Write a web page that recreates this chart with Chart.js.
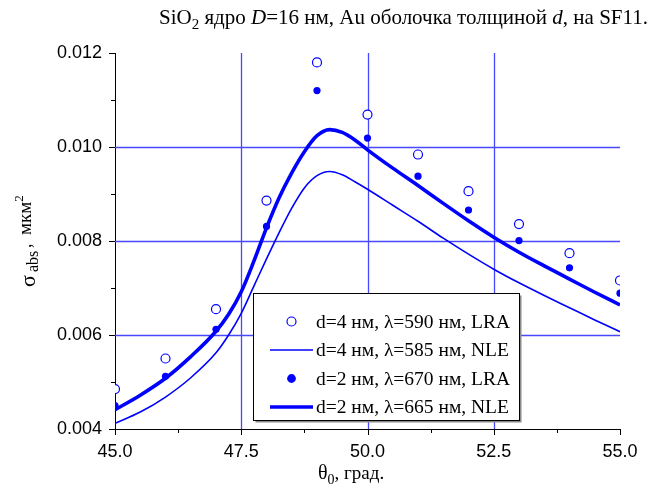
<!DOCTYPE html>
<html>
<head>
<meta charset="utf-8">
<script src="https://cdn.jsdelivr.net/npm/chart.js@4.4.1/dist/chart.umd.min.js"></script>
<style>
    html, body { margin: 0; padding: 0; background: #ffffff; }
</style>
</head>
<body>
<canvas id="sigma_graph" width="670" height="494"></canvas>
<script>
// углы для точек LRA
const angles = [45, 46, 47, 48, 49, 50, 51, 52, 53, 54, 55];
const lra4 = [0.00485, 0.00550, 0.00655, 0.00886, 0.01180, 0.01069, 0.00984, 0.00906, 0.00836, 0.00774, 0.00716];
const lra2 = [0.00450, 0.00512, 0.00612, 0.00831, 0.01120, 0.01019, 0.00938, 0.00866, 0.00801, 0.00743, 0.00689];

// кривые NLE
const nleAngles = [45, 45.5, 46, 46.5, 47, 47.25, 47.5, 47.75, 48, 48.25, 48.5, 48.75, 49, 49.25,
                   49.5, 49.75, 50, 50.5, 51, 51.5, 52, 52.5, 53, 53.5, 54, 54.5, 55];
const nle4 = [0.00412, 0.00436, 0.00468, 0.00509, 0.00562, 0.00600, 0.00646, 0.00704, 0.00762, 0.00818,
              0.00870, 0.00913, 0.00939, 0.00948, 0.00941, 0.00926, 0.00910, 0.00876, 0.00842, 0.00806,
              0.00772, 0.00740, 0.00711, 0.00684, 0.00658, 0.00632, 0.00607];
const nle2 = [0.00441, 0.00472, 0.00508, 0.00554, 0.00608, 0.00644, 0.00692, 0.00757, 0.00828, 0.00892,
              0.00945, 0.00990, 0.01024, 0.01037, 0.01031, 0.01015, 0.00994, 0.00955, 0.00918, 0.00880,
              0.00843, 0.00808, 0.00776, 0.00747, 0.00719, 0.00691, 0.00664];

const seriesNames = [
    "d=4 нм, λ=590 нм, LRA",
    "d=4 нм, λ=585 нм, NLE",
    "d=2 нм, λ=670 нм, LRA",
    "d=2 нм, λ=665 нм, NLE"
];

const xMajor = [45, 47.5, 50, 52.5, 55];
const xTickLabels = ["45.0", "47.5", "50.0", "52.5", "55.0"];
const yMajor = [0.004, 0.006, 0.008, 0.010, 0.012];
const yTickLabels = ["0.004", "0.006", "0.008", "0.010", "0.012"];

const BLUE = "#0000ff";
const GRID = "#4848ff";
const SERIF = '"Liberation Serif", "Times New Roman", serif';
const SANS = '"Liberation Sans", Arial, sans-serif';

function withMinor(major) {
    const out = [];
    major.forEach((v, i) => {
        out.push(v);
        if (i < major.length - 1) out.push((v + major[i + 1]) / 2);
    });
    return out;
}
const xTickValues = withMinor(xMajor);
const yTickValues = withMinor(yMajor);

function isMajor(list, v) {
    return list.some(m => Math.abs(m - v) < 1e-9);
}
function labelFor(list, labels, v) {
    const i = list.findIndex(m => Math.abs(m - v) < 1e-9);
    return i >= 0 ? labels[i] : "";
}

// текст с индексами; p.at задаёт позицию явно
function richText(ctx, parts, x, y) {
    let cx = x;
    parts.forEach(p => {
        ctx.font = (p.italic ? "italic " : "") + p.size + "px " + (p.family || SERIF);
        if (p.at !== undefined) cx = x + p.at;
        ctx.fillText(p.t, cx, y + (p.dy || 0));
        cx += ctx.measureText(p.t).width;
    });
    return cx - x;
}

const pts = (xs, ys) => xs.map((x, i) => ({ x: x, y: ys[i] }));

const decorPlugin = {
    id: "decor",
    beforeDatasetsDraw(chart) {
        const ctx = chart.ctx;
        const xs = chart.scales.x, ys = chart.scales.y;
        const area = chart.chartArea;
        ctx.save();
        ctx.strokeStyle = GRID;
        ctx.lineWidth = 1.3;
        ctx.beginPath();
        xMajor.slice(1, -1).forEach(v => {
            const px = Math.round(xs.getPixelForValue(v)) + 0.5;
            ctx.moveTo(px, area.top);
            ctx.lineTo(px, area.bottom);
        });
        yMajor.slice(1, -1).forEach(v => {
            const py = Math.round(ys.getPixelForValue(v)) + 0.5;
            ctx.moveTo(area.left, py);
            ctx.lineTo(area.right, py);
        });
        ctx.stroke();
        ctx.restore();
    },
    afterDraw(chart) {
        const ctx = chart.ctx;
        const xs = chart.scales.x, ys = chart.scales.y;
        const area = chart.chartArea;

        // засечки
        ctx.save();
        ctx.strokeStyle = "#000";
        ctx.lineWidth = 1;
        ctx.beginPath();
        xTickValues.forEach(v => {
            const px = Math.round(xs.getPixelForValue(v)) + 0.5;
            const len = isMajor(xMajor, v) ? 6 : 4;
            ctx.moveTo(px, area.bottom);
            ctx.lineTo(px, area.bottom + len);
        });
        yTickValues.forEach(v => {
            const py = Math.round(ys.getPixelForValue(v)) + 0.5;
            const len = isMajor(yMajor, v) ? 6 : 4;
            ctx.moveTo(area.left, py);
            ctx.lineTo(area.left - len, py);
        });
        ctx.stroke();
        ctx.restore();

        // заголовок
        ctx.save();
        ctx.fillStyle = "#000";
        ctx.textBaseline = "alphabetic";
        richText(ctx, [
            { t: "SiO", size: 21 },
            { t: "2", size: 15, dy: 5 },
            { t: " ядро ", size: 21 },
            { t: "D", size: 21, italic: true },
            { t: "=16 нм, Au оболочка толщиной ", size: 21 },
            { t: "d", size: 21, italic: true },
            { t: ", на SF11.", size: 21 }
        ], 159, 24);

        // подпись оси x
        richText(ctx, [
            { t: "θ", size: 20 },
            { t: "0", size: 14, dy: 5 },
            { t: ", град.", size: 19 }
        ], 318, 479);

        // подпись оси y
        ctx.translate(31, 287);
        ctx.rotate(-Math.PI / 2);
        richText(ctx, [
            { t: "σ", size: 22, dy: 4, at: 0 },
            { t: "abs", size: 16, dy: 7, at: 15 },
            { t: ",", size: 18, at: 39 },
            { t: "мкм", size: 19, at: 52 },
            { t: "2", size: 13, dy: -8 }
        ], 0, 0);
        ctx.restore();

        // легенда
        const box = { x: 253.5, y: 293.5, w: 266, h: 127 };
        ctx.save();
        ctx.fillStyle = "#8a8a8a";
        ctx.fillRect(box.x + 2, box.y + 2, box.w, box.h);
        ctx.fillStyle = "#fff";
        ctx.fillRect(box.x, box.y, box.w, box.h);
        ctx.strokeStyle = "#000";
        ctx.lineWidth = 1;
        ctx.strokeRect(box.x, box.y, box.w, box.h);

        const rowY = [321.5, 350, 378.5, 407];
        chart.data.datasets.forEach((ds, i) => {
            const y = rowY[i];
            if (ds.showLine === false) {
                ctx.beginPath();
                ctx.arc(291.5, y, ds.pointRadius, 0, Math.PI * 2);
                ctx.fillStyle = ds.pointBackgroundColor;
                ctx.fill();
                ctx.lineWidth = ds.pointBorderWidth;
                ctx.strokeStyle = ds.pointBorderColor;
                ctx.stroke();
            } else {
                ctx.beginPath();
                ctx.moveTo(270, y);
                ctx.lineTo(313, y);
                ctx.lineWidth = ds.borderWidth;
                ctx.strokeStyle = ds.borderColor;
                ctx.stroke();
            }
            ctx.fillStyle = "#000";
            ctx.font = "19.5px " + SERIF;
            ctx.textBaseline = "middle";
            ctx.fillText(ds.label, 316, y + 1);
        });
        ctx.restore();
    }
};

document.addEventListener("DOMContentLoaded", function () {
    const ctx = document.getElementById("sigma_graph").getContext("2d");

    new Chart(ctx, {
        type: "line",
        data: {
            datasets: [
                {
                    label: seriesNames[0],
                    data: pts(angles, lra4),
                    showLine: false,
                    pointRadius: 4.5,
                    pointBackgroundColor: "#ffffff",
                    pointBorderColor: BLUE,
                    pointBorderWidth: 1.2,
                    clip: 0
                },
                {
                    label: seriesNames[1],
                    data: pts(nleAngles, nle4),
                    borderColor: BLUE,
                    borderWidth: 1.6,
                    pointRadius: 0,
                    cubicInterpolationMode: "monotone",
                    clip: 0
                },
                {
                    label: seriesNames[2],
                    data: pts(angles, lra2),
                    showLine: false,
                    pointRadius: 3.6,
                    pointBackgroundColor: BLUE,
                    pointBorderColor: BLUE,
                    pointBorderWidth: 0,
                    clip: 0
                },
                {
                    label: seriesNames[3],
                    data: pts(nleAngles, nle2),
                    borderColor: BLUE,
                    borderWidth: 3.6,
                    pointRadius: 0,
                    cubicInterpolationMode: "monotone",
                    clip: 0
                }
            ]
        },
        options: {
            responsive: false,
            animation: false,
            layout: { padding: { top: 53, right: 50, left: 0, bottom: 0 } },
            plugins: {
                legend: { display: false },
                tooltip: { enabled: false },
                title: { display: false }
            },
            scales: {
                x: {
                    type: "linear",
                    min: 45,
                    max: 55,
                    afterFit: s => { s.height = 65; },
                    afterBuildTicks: s => { s.ticks = xTickValues.map(v => ({ value: v })); },
                    ticks: {
                        autoSkip: false,
                        maxRotation: 0,
                        padding: 12,
                        color: "#000",
                        font: { family: SANS, size: 18 },
                        callback: v => labelFor(xMajor, xTickLabels, v)
                    },
                    grid: { display: false, drawTicks: false },
                    border: { color: "#000", width: 1 }
                },
                y: {
                    type: "linear",
                    min: 0.004,
                    max: 0.012,
                    afterFit: s => { s.width = 115; },
                    afterBuildTicks: s => { s.ticks = yTickValues.map(v => ({ value: v })); },
                    ticks: {
                        autoSkip: false,
                        padding: 13,
                        color: "#000",
                        font: { family: SANS, size: 18 },
                        callback: v => labelFor(yMajor, yTickLabels, v)
                    },
                    grid: { display: false, drawTicks: false },
                    border: { color: "#000", width: 1 }
                }
            }
        },
        plugins: [decorPlugin]
    });
});
</script>
</body>
</html>
